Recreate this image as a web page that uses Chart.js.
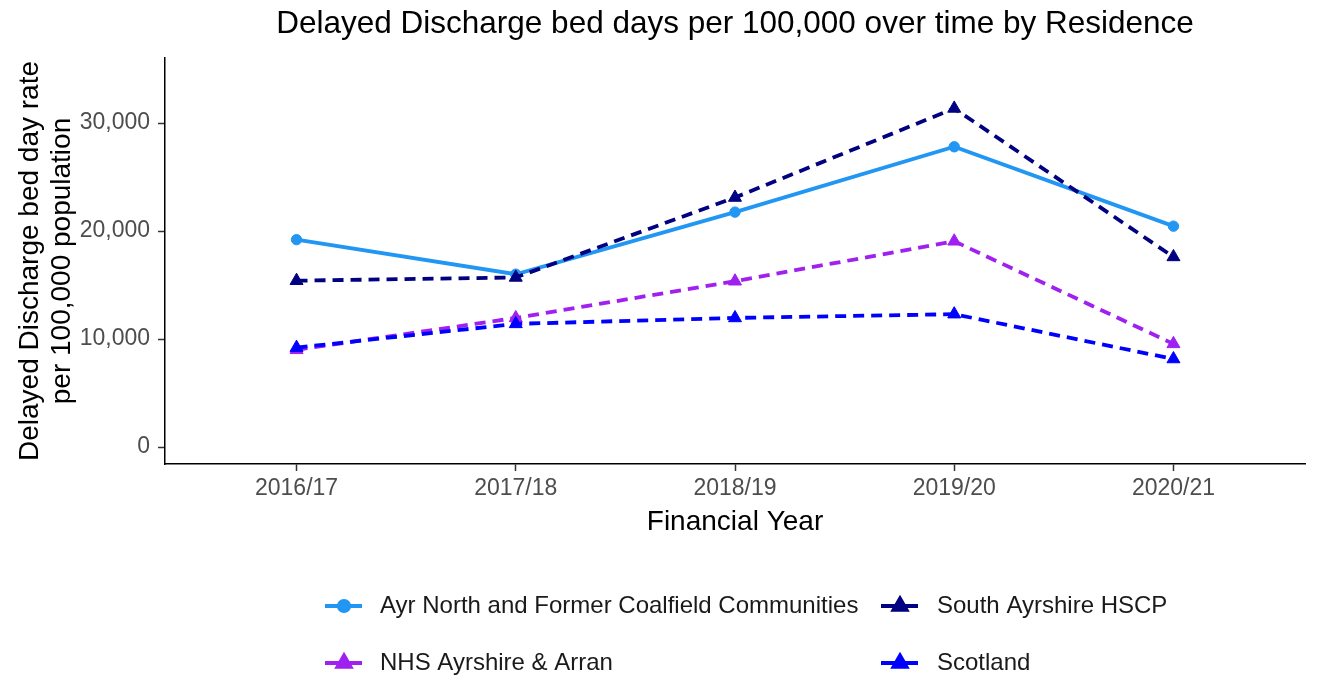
<!DOCTYPE html>
<html>
<head>
<meta charset="utf-8">
<script src="https://cdn.jsdelivr.net/npm/chart.js@4"></script>
<style>
  html, body { margin: 0; padding: 0; background: #fff; }
  #wrap { width: 1317px; height: 679px; position: relative; }
</style>
</head>
<body>
<div id="wrap"><canvas id="chart"></canvas></div>
<script>
// values
var years = ['2016/17', '2017/18', '2018/19', '2019/20', '2020/21'];
var ayrNorth = [19200, 16000, 21750, 27800, 20450];
var nhsAyrshire = [9000, 11950, 15350, 19050, 9550];
var southAyrshire = [15400, 15700, 23100, 31350, 17600];
var scotland = [9200, 11400, 11950, 12300, 8150];
var yTicks = [0, 10000, 20000, 30000];

var seriesNames = ['Ayr North and Former Coalfield Communities', 'NHS Ayrshire & Arran', 'South Ayrshire HSCP', 'Scotland'];
var seriesColours = ['#2196F3', '#A020F0', '#000080', '#0000FF'];
var chartTitle = 'Delayed Discharge bed days per 100,000 over time by Residence';

var FONT = "'Liberation Sans', Arial, sans-serif";

function toPoints(values){
  return values.map(function(v, i){ return {x: i, y: v}; });
}

function makeSet(idx, values, dashed, shape, radius, order){
  return {
    label: seriesNames[idx],
    data: toPoints(values),
    borderColor: seriesColours[idx],
    backgroundColor: seriesColours[idx],
    borderWidth: 3.8,
    borderDash: dashed ? [11, 7] : [],
    pointStyle: shape,
    pointRadius: radius,
    pointBorderWidth: 1,
    pointHoverRadius: radius,
    tension: 0,
    order: order
  };
}

// title centred over the plot panel, legend in two columns (filled column-wise)
var extras = {
  id: 'extras',
  afterDraw: function(chart){
    var ctx = chart.ctx;
    var area = chart.chartArea;
    ctx.save();
    ctx.fillStyle = '#000';
    ctx.font = '31.5px ' + FONT;
    ctx.textAlign = 'center';
    ctx.textBaseline = 'alphabetic';
    ctx.fillText(chartTitle, (area.left + area.right) / 2, 33);

    var slots = [
      {lineX: 325, textX: 380, y: 606},
      {lineX: 325, textX: 380, y: 663},
      {lineX: 881, textX: 937, y: 606},
      {lineX: 881, textX: 937, y: 663}
    ];
    chart.data.datasets.forEach(function(ds, i){
      var s = slots[i];
      ctx.strokeStyle = ds.borderColor;
      ctx.lineWidth = ds.borderWidth;
      ctx.setLineDash([]);
      ctx.beginPath();
      ctx.moveTo(s.lineX, s.y);
      ctx.lineTo(s.lineX + 37, s.y);
      ctx.stroke();
      Chart.helpers.drawPoint(ctx, {
        pointStyle: ds.pointStyle,
        radius: ds.pointRadius,
        borderWidth: 1
      }, s.lineX + 19, s.y);
      ctx.fillStyle = ds.backgroundColor;
      ctx.fill();
      ctx.fillStyle = '#1a1a1a';
      ctx.font = '24px ' + FONT;
      ctx.textBaseline = 'middle';
      ctx.textAlign = 'left';
      ctx.fillText(ds.label, s.textX, s.y);
    });
    ctx.restore();
  }
};

var datasets = [
  makeSet(0, ayrNorth, false, 'circle', 5.2, 4),
  makeSet(1, nhsAyrshire, true, 'triangle', 7.5, 3),
  makeSet(2, southAyrshire, true, 'triangle', 7.5, 2),
  makeSet(3, scotland, true, 'triangle', 7.5, 1)
];

var chart = new Chart(document.getElementById('chart'), {
  type: 'line',
  data: { datasets: datasets },
  plugins: [extras],
  options: {
    responsive: true,
    maintainAspectRatio: false,
    animation: false,
    layout: { padding: { left: 0, right: 12, top: 58, bottom: 135 } },
    plugins: {
      legend: { display: false },
      tooltip: { enabled: false },
      title: { display: false }
    },
    scales: {
      x: {
        type: 'linear',
        min: -0.6,
        max: 4.6,
        afterBuildTicks: function(scale){
          scale.ticks = years.map(function(y, i){ return {value: i}; });
        },
        afterFit: function(scale){ scale.height = 80; },
        grid: { drawOnChartArea: false, tickLength: 7, tickColor: '#333', tickWidth: 1.5 },
        border: { color: '#000', width: 1.5 },
        ticks: {
          color: '#4D4D4D',
          padding: 4,
          maxRotation: 0,
          font: { family: FONT, size: 23 },
          callback: function(v){ return years[v]; }
        },
        title: {
          display: true,
          text: 'Financial Year',
          color: '#000',
          font: { family: FONT, size: 28 },
          padding: { top: 0, bottom: 5 }
        }
      },
      y: {
        min: -1574,
        max: 36020,
        afterBuildTicks: function(scale){
          scale.ticks = yTicks.map(function(v){ return {value: v}; });
        },
        afterFit: function(scale){ scale.width = 165; },
        grid: { drawOnChartArea: false, tickLength: 7, tickColor: '#333', tickWidth: 1.5 },
        border: { color: '#000', width: 1.5 },
        ticks: {
          color: '#4D4D4D',
          padding: 8,
          font: { family: FONT, size: 23 },
          callback: function(v){ return v.toLocaleString('en-US'); }
        },
        title: {
          display: true,
          text: ['Delayed Discharge bed day rate', 'per 100,000 population'],
          color: '#000',
          font: { family: FONT, size: 28, lineHeight: 1.15 },
          padding: { top: 14, bottom: 4 }
        }
      }
    }
  }
});
</script>
</body>
</html>
